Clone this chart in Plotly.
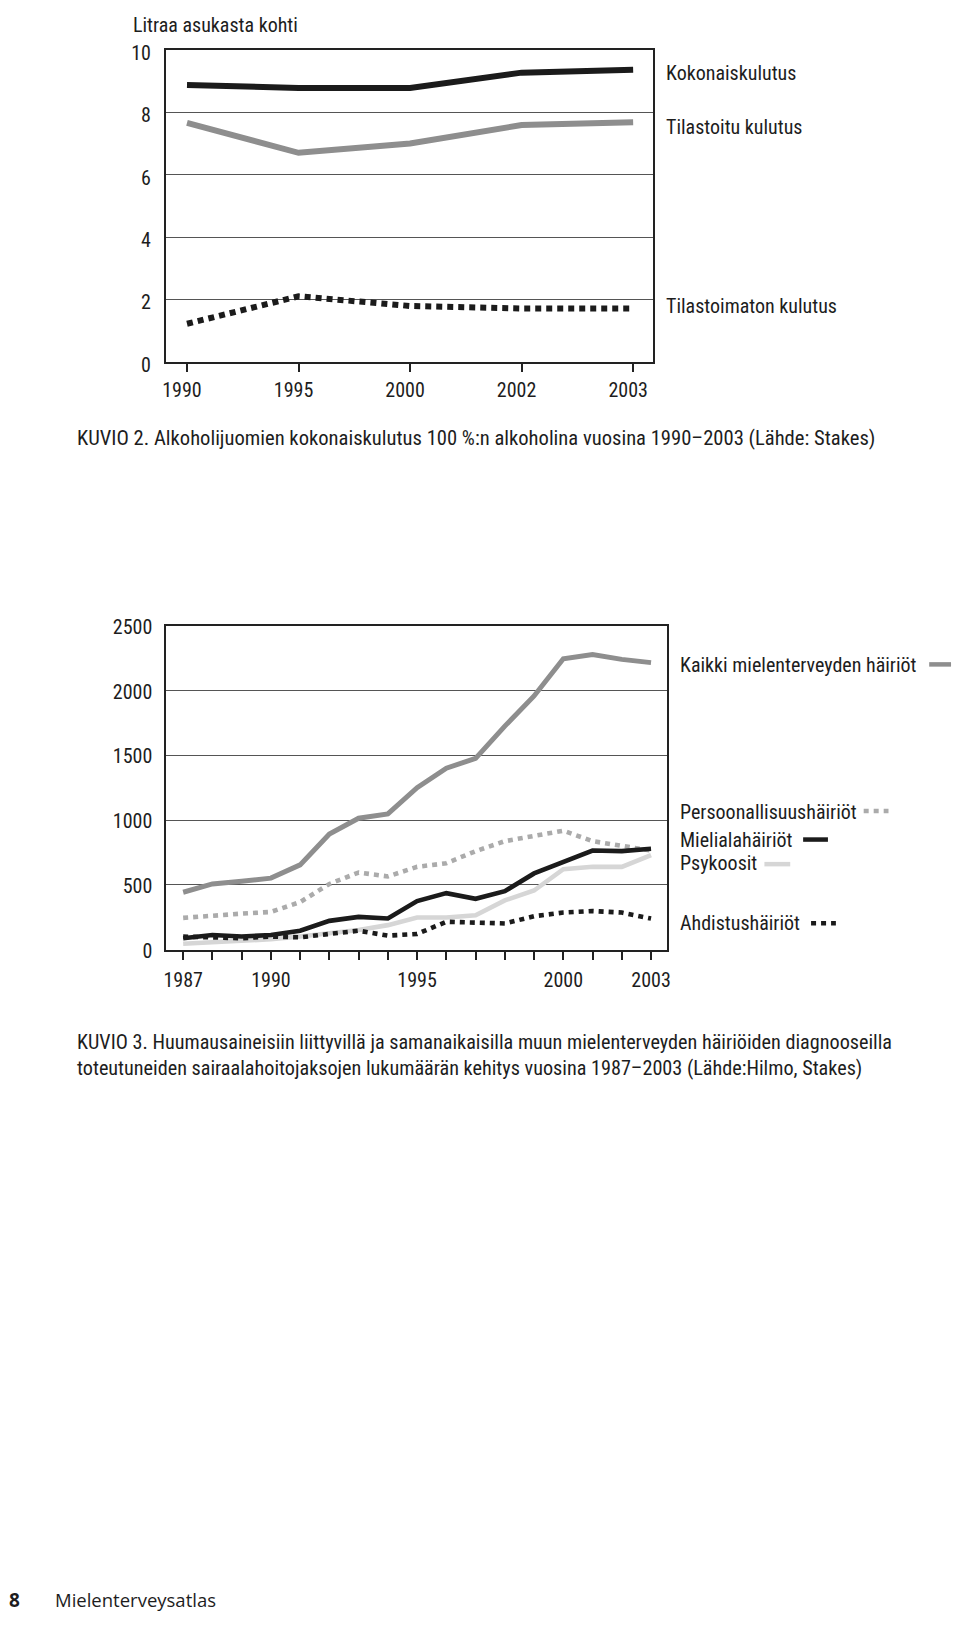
import plotly.graph_objects as go

W, H = 960, 1628

# ---------------- Data: KUVIO 2 ----------------
years1 = ["1990", "1995", "2000", "2002", "2003"]
kokonaiskulutus = [8.87, 8.78, 8.78, 9.27, 9.36]
tilastoitu = [7.66, 6.70, 7.00, 7.59, 7.68]
tilastoimaton = [1.22, 2.10, 1.79, 1.71, 1.71]
y1_ticks = [0, 2, 4, 6, 8, 10]

# ---------------- Data: KUVIO 3 ----------------
years2 = list(range(1987, 2004))
kaikki = [444, 508, 528, 553, 655, 893, 1015, 1048, 1251, 1401, 1477, 1726, 1959, 2246, 2279, 2241, 2216]
persoonallisuus = [246, 266, 279, 292, 368, 508, 596, 566, 640, 668, 761, 838, 883, 919, 838, 805, 766]
mieliala = [89, 114, 102, 114, 147, 223, 254, 241, 376, 437, 393, 452, 589, 680, 766, 761, 779]
psykoosit = [46, 56, 63, 81, 102, 127, 152, 190, 249, 249, 266, 381, 457, 622, 640, 640, 731]
ahdistus = [102, 96, 89, 102, 96, 122, 147, 109, 122, 216, 208, 203, 259, 287, 299, 287, 241]
x2_labelled = [1987, 1990, 1995, 2000, 2003]
y2_ticks = [0, 500, 1000, 1500, 2000, 2500]

FONT = "Liberation Sans Narrow, Arial Narrow, Roboto Condensed, Roboto, sans-serif"
TXT = "#1d1d1d"
BLACK = "#1b1b1b"
GRAY = "#8e8e8e"
LGRAY = "#ababab"
XLGRAY = "#d6d6d6"
GRID = "#555555"
FS = 20

# frame positions (px from top), measured on the reference
C1_TOP, C1_BOT = 39.5, 356.5
C2_TOP, C2_BOT = 624.8, 954


def px(x):
    return x / W


def py(y):
    return 1 - y / H


fig = go.Figure()

# KUVIO 2 traces
fig.add_trace(go.Scatter(x=years1, y=tilastoitu, mode="lines",
                         line=dict(color=GRAY, width=6), xaxis="x", yaxis="y"))
fig.add_trace(go.Scatter(x=years1, y=tilastoimaton, mode="lines",
                         line=dict(color=BLACK, width=6, dash="6px,5px"), xaxis="x", yaxis="y"))
fig.add_trace(go.Scatter(x=years1, y=kokonaiskulutus, mode="lines",
                         line=dict(color=BLACK, width=6), xaxis="x", yaxis="y"))

# KUVIO 3 traces
fig.add_trace(go.Scatter(x=years2, y=psykoosit, mode="lines",
                         line=dict(color=XLGRAY, width=4.6), xaxis="x2", yaxis="y2"))
fig.add_trace(go.Scatter(x=years2, y=persoonallisuus, mode="lines",
                         line=dict(color=LGRAY, width=4.6, dash="5px,5px"), xaxis="x2", yaxis="y2"))
fig.add_trace(go.Scatter(x=years2, y=kaikki, mode="lines",
                         line=dict(color=GRAY, width=5), xaxis="x2", yaxis="y2"))
fig.add_trace(go.Scatter(x=years2, y=mieliala, mode="lines",
                         line=dict(color=BLACK, width=4.6), xaxis="x2", yaxis="y2"))
fig.add_trace(go.Scatter(x=years2, y=ahdistus, mode="lines",
                         line=dict(color=BLACK, width=4.6, dash="5px,5px"), xaxis="x2", yaxis="y2"))

axis_common = dict(showline=True, linecolor="#222", linewidth=1.8, mirror=True,
                   zeroline=False, tickfont=dict(family=FONT, size=FS, color=TXT))

fig.update_layout(
    width=W, height=H, margin=dict(l=0, r=0, t=0, b=0),
    paper_bgcolor="white", plot_bgcolor="white", showlegend=False,
    font=dict(family=FONT, size=FS, color=TXT),
    xaxis=dict(domain=[px(164), px(655)], type="category", range=[-0.19, 4.18],
               showgrid=False, ticks="outside", ticklen=8, tickwidth=1.5, tickcolor="#222",
               ticklabelstandoff=1, ticklabelshift=-5, anchor="y", **axis_common),
    yaxis=dict(domain=[py(C1_BOT), py(C1_TOP)], range=[0, 10], tickvals=y1_ticks,
               showgrid=True, gridcolor=GRID, gridwidth=1.2, ticks="",
               ticklabelstandoff=9, ticklabelshift=3, anchor="x", **axis_common),
    xaxis2=dict(domain=[px(164.4), px(669)], range=[1986.42, 2003.55],
                tickvals=years2, ticktext=[str(y) if y in x2_labelled else "" for y in years2],
                showgrid=False, ticks="outside", ticklen=8, tickwidth=1.5, tickcolor="#222",
                ticklabelstandoff=3, anchor="y2", **axis_common),
    yaxis2=dict(domain=[py(C2_BOT), py(C2_TOP)], range=[0, 2500], tickvals=y2_ticks,
                showgrid=True, gridcolor=GRID, gridwidth=1.2, ticks="",
                ticklabelstandoff=8, ticklabelshift=1, anchor="x2", **axis_common),
)


def label(text, x, y, size=FS, family=FONT, xanchor="left", bold=False):
    fig.add_annotation(text=f"<b>{text}</b>" if bold else text, x=px(x), y=py(y),
                       xref="paper", yref="paper", xanchor=xanchor, yanchor="middle",
                       showarrow=False, font=dict(family=family, size=size, color=TXT))


# KUVIO 2 texts
label("Litraa asukasta kohti", 129, 14.5)
label("Kokonaiskulutus", 666, 63)
label("Tilastoitu kulutus", 666, 118)
label("Tilastoimaton kulutus", 666, 300)
label("KUVIO 2. Alkoholijuomien kokonaiskulutus 100 %:n alkoholina vuosina 1990–2003 (Lähde: Stakes)",
      73, 434, size=20.6)

# KUVIO 3 legend texts
label("Kaikki mielenterveyden häiriöt", 680, 665)
label("Persoonallisuushäiriöt", 680, 814)
label("Mielialahäiriöt", 680, 842)
label("Psykoosit", 680, 866)
label("Ahdistushäiriöt", 680, 927)

# legend swatches
swatches = [
    (933, 955, 664, GRAY, None),
    (867, 892, 813, LGRAY, "5px,5px"),
    (806, 831, 842, BLACK, None),
    (767, 793, 867, XLGRAY, None),
    (814, 839, 927, BLACK, "5px,5px"),
]
for x0, x1, yy, col, dash in swatches:
    ln = dict(color=col, width=4.5)
    if dash:
        ln["dash"] = dash
    fig.add_shape(type="line", xref="paper", yref="paper",
                  x0=px(x0), x1=px(x1), y0=py(yy), y1=py(yy), line=ln)

label("KUVIO 3. Huumausaineisiin liittyvillä ja samanaikaisilla muun mielenterveyden häiriöiden diagnooseilla",
      73, 1048, size=20.2)
label("toteutuneiden sairaalahoitojaksojen lukumäärän kehitys vuosina 1987–2003 (Lähde:Hilmo, Stakes)",
      73, 1074, size=20.2)

# footer
label("8", 4, 1614.5, size=19, family="Open Sans, sans-serif", bold=True)
label("Mielenterveysatlas", 50, 1614.5, size=18.5, family="Open Sans, sans-serif")

fig.write_html("out.html", config={"displayModeBar": False},
               post_script="document.body.style.margin='0px';")
